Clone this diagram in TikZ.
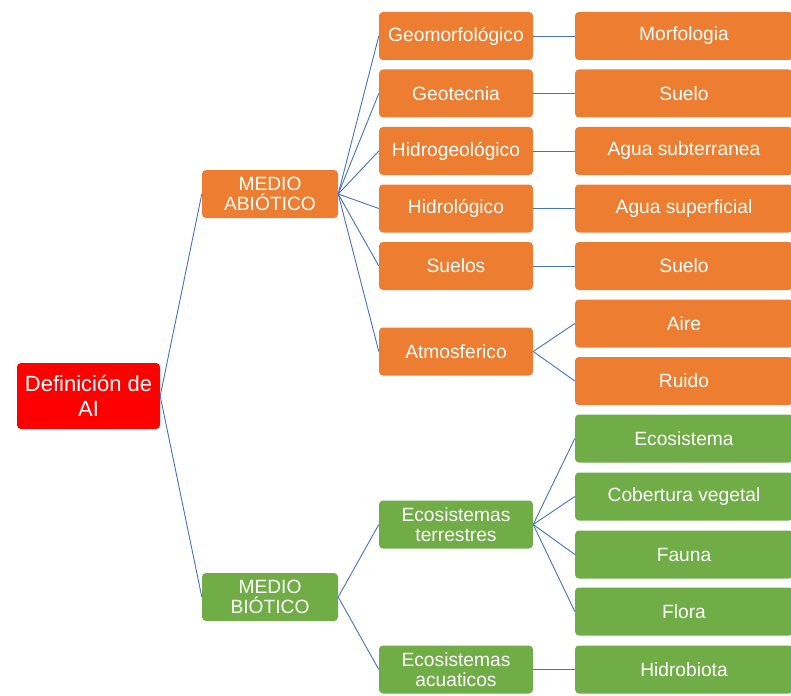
\documentclass[tikz,border=0pt]{standalone}
\usepackage{fontspec}
\setmainfont{Liberation Sans}
\begin{document}
\begin{tikzpicture}[x=1pt,y=-1pt,
  box/.style={rounded corners=4pt, inner sep=0pt, align=center, text=white,
    font=\fontsize{19.2}{20.5}\selectfont, anchor=center},
  ora/.style={box, fill=orangeC},
  gre/.style={box, fill=greenC},
  lone/.style={minimum width=136pt, minimum height=48pt},
  ltwo/.style={minimum width=154pt, minimum height=48pt},
  lthree/.style={minimum width=218pt, minimum height=48pt},
  link/.style={draw=linkC, line width=0.9pt}
]
\definecolor{orangeC}{HTML}{ED7D31}
\definecolor{greenC}{HTML}{70AD47}
\definecolor{linkC}{HTML}{4472C4}
\useasboundingbox (0,0) rectangle (791,695);

\node[box, fill=red, minimum width=143pt, minimum height=66pt,
  font=\fontsize{22}{24.5}\selectfont] (root) at (88.5,396) {Definición de\\AI};

\node[ora, lone] (abio) at (270,194) {MEDIO\\ABIÓTICO};
\node[gre, lone] (bio) at (270,597) {MEDIO\\BIÓTICO};

\node[ora, ltwo] (geom) at (456,36) {Geomorfológico};
\node[ora, ltwo] (geot) at (456,93.5) {Geotecnia};
\node[ora, ltwo] (hidg) at (456,151) {Hidrogeológico};
\node[ora, ltwo] (hidr) at (456,208.5) {Hidrológico};
\node[ora, ltwo] (suel) at (456,266) {Suelos};
\node[ora, ltwo] (atmo) at (456,351.5) {Atmosferico};
\node[gre, ltwo] (eter) at (456,524.5) {Ecosistemas\\terrestres};
\node[gre, ltwo] (eacu) at (456,669.5) {Ecosistemas\\acuaticos};

\node[ora, lthree] (morf) at (684,36) {Morfologia};
\node[ora, lthree] (sue1) at (684,93.5) {Suelo};
\node[ora, lthree] (asub) at (684,151) {Agua subterranea};
\node[ora, lthree] (asup) at (684,208.5) {Agua superficial};
\node[ora, lthree] (sue2) at (684,266) {Suelo};
\node[ora, lthree] (aire) at (684,323.5) {Aire};
\node[ora, lthree] (ruid) at (684,381) {Ruido};
\node[gre, lthree] (ecos) at (684,438.5) {Ecosistema};
\node[gre, lthree] (cobe) at (684,496.5) {Cobertura vegetal};
\node[gre, lthree] (faun) at (684,554.5) {Fauna};
\node[gre, lthree] (flor) at (684,611.5) {Flora};
\node[gre, lthree] (hidb) at (684,669.5) {Hidrobiota};

\draw[link] (root.east) -- (abio.west);
\draw[link] (root.east) -- (bio.west);
\foreach \c in {geom,geot,hidg,hidr,suel,atmo}
  \draw[link] (abio.east) -- (\c.west);
\foreach \c in {eter,eacu}
  \draw[link] (bio.east) -- (\c.west);
\draw[link] (geom.east) -- (morf.west);
\draw[link] (geot.east) -- (sue1.west);
\draw[link] (hidg.east) -- (asub.west);
\draw[link] (hidr.east) -- (asup.west);
\draw[link] (suel.east) -- (sue2.west);
\draw[link] (atmo.east) -- (aire.west);
\draw[link] (atmo.east) -- (ruid.west);
\foreach \c in {ecos,cobe,faun,flor}
  \draw[link] (eter.east) -- (\c.west);
\draw[link] (eacu.east) -- (hidb.west);
\end{tikzpicture}
\end{document}
